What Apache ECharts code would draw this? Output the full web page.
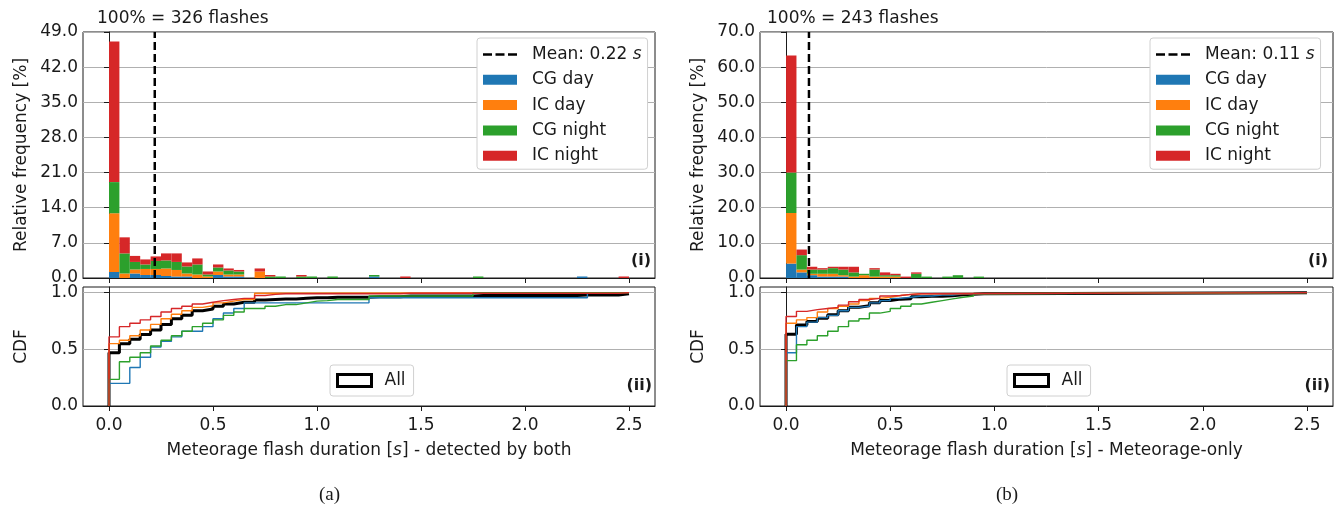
<!DOCTYPE html>
<html>
<head>
<meta charset="utf-8">
<script src="https://cdn.jsdelivr.net/npm/echarts@6/dist/echarts.min.js"></script>
<style>
  html, body { margin: 0; padding: 0; background: #ffffff; }
  #chart { width: 1343px; height: 515px; }
</style>
</head>
<body>
<div id="chart"></div>
<script>
// ---- shared binning -------------------------------------------------------
const BIN = 0.05;          // histogram bin width [s]
const X_END = 2.5;         // end of the binned range [s]
const X_TICKS = [0, 0.5, 1, 1.5, 2, 2.5];
const CDF_TICKS = [0, 0.5, 1];
const CATEGORIES = ['CG day', 'IC day', 'CG night', 'IC night'];
const COLORS = ['#1f77b4', '#ff7f0e', '#2ca02c', '#d62728'];

// ---- (a) detected by both: relative frequency [%] per bin -----------------
const FLASHES_A = 326;
const MEAN_A = 0.22;
const Y_MAX_A = 49;
const Y_STEP_A = 7;
const cgDayA   = [1.2, 0.0, 0.9, 0.6, 0.6, 0.4, 0.3, 0.3, 0.0, 0.0, 0.6, 0.3, 0.3, 0, 0, 0, 0, 0, 0, 0, 0, 0, 0, 0, 0, 0.3, 0, 0, 0, 0, 0, 0, 0, 0, 0, 0, 0, 0, 0, 0, 0, 0, 0, 0, 0, 0.3];
const icDayA   = [11.7, 0.9, 0.8, 1.2, 1.2, 1.5, 1.3, 0.6, 0.7, 0.3, 0.7, 0.4, 0.4, 0, 1.3];
const cgNightA = [6.2, 4.0, 1.5, 0.9, 1.6, 1.6, 1.6, 1.4, 2.0, 0.4, 0.8, 0.8, 0.6, 0, 0, 0.3, 0.3, 0, 0.3, 0.3, 0, 0.3, 0, 0, 0, 0.3, 0, 0, 0, 0, 0, 0, 0, 0, 0, 0.3];
const icNightA = [28.0, 3.2, 1.2, 1.0, 0.9, 1.4, 1.7, 0.8, 1.2, 0.6, 0.6, 0.4, 0.3, 0, 0.6, 0.3, 0, 0, 0.3, 0, 0, 0, 0, 0, 0, 0, 0, 0, 0.3, 0, 0, 0, 0, 0, 0, 0, 0, 0, 0, 0, 0, 0, 0, 0, 0, 0, 0, 0, 0, 0.3];

// (a) cumulative distribution, value held over each bin
const cdfAllA     = [0.47, 0.55, 0.59, 0.63, 0.67, 0.72, 0.77, 0.80, 0.84, 0.855, 0.88, 0.90, 0.915, 0.915, 0.935, 0.94, 0.945, 0.945, 0.95, 0.955, 0.955, 0.96, 0.96, 0.96, 0.96, 0.965, 0.965, 0.965, 0.97, 0.97, 0.97, 0.97, 0.97, 0.97, 0.97, 0.975, 0.975, 0.975, 0.975, 0.975, 0.975, 0.975, 0.975, 0.975, 0.975, 0.98, 0.98, 0.98, 0.98, 0.99];
const cdfCgDayA   = [0.20, 0.20, 0.34, 0.43, 0.52, 0.57, 0.61, 0.66, 0.66, 0.70, 0.77, 0.82, 0.86, 0.91, 0.91, 0.91, 0.91, 0.91, 0.91, 0.91, 0.91, 0.91, 0.91, 0.91, 0.91, 0.955, 0.955, 0.955, 0.955, 0.955, 0.955, 0.955, 0.955, 0.955, 0.955, 0.955, 0.955, 0.955, 0.955, 0.955, 0.955, 0.955, 0.955, 0.955, 0.955, 0.955, 1.0];
const cdfIcDayA   = [0.55, 0.58, 0.62, 0.67, 0.72, 0.77, 0.81, 0.84, 0.87, 0.885, 0.91, 0.925, 0.94, 0.94, 0.995, 1.0];
const cdfCgNightA = [0.235, 0.39, 0.43, 0.47, 0.53, 0.58, 0.62, 0.66, 0.70, 0.73, 0.76, 0.80, 0.83, 0.86, 0.86, 0.88, 0.895, 0.895, 0.91, 0.925, 0.93, 0.94, 0.94, 0.94, 0.94, 0.97, 0.97, 0.97, 0.97, 0.97, 0.97, 0.97, 0.97, 0.97, 0.97, 1.0];
const cdfIcNightA = [0.61, 0.70, 0.73, 0.76, 0.79, 0.83, 0.86, 0.88, 0.90, 0.915, 0.93, 0.94, 0.95, 0.95, 0.975, 0.985, 0.99, 0.99, 0.99, 0.99, 0.99, 0.99, 0.99, 0.99, 0.99, 0.99, 0.99, 0.99, 0.995, 0.995, 0.995, 0.995, 0.995, 0.995, 0.995, 0.995, 0.995, 0.995, 0.995, 0.995, 0.995, 0.995, 0.995, 0.995, 0.995, 0.995, 0.995, 0.995, 0.995, 1.0];

// ---- (b) Meteorage-only: relative frequency [%] per bin -------------------
const FLASHES_B = 243;
const MEAN_B = 0.11;
const Y_MAX_B = 70;
const Y_STEP_B = 10;
const cgDayB   = [4.1, 1.6, 0.8, 0.4, 0.4, 0.4];
const icDayB   = [14.4, 0.8, 0.4, 0.8, 0.8, 0.4, 0.4, 0.8, 0.4, 0.4, 0.4];
const cgNightB = [11.5, 4.1, 1.2, 1.2, 1.6, 1.6, 1.2, 0.4, 2.0, 0.4, 0.4, 0, 1.2, 0.4, 0, 0.4, 0.8, 0, 0.4];
const icNightB = [33.3, 1.6, 0.8, 0.4, 0.4, 0.8, 1.6, 0, 0.4, 0.8, 0.4, 0.4, 0.4];

// (b) cumulative distribution, value held over each bin
const cdfAllB     = [0.632, 0.714, 0.746, 0.774, 0.806, 0.84, 0.872, 0.885, 0.912, 0.93, 0.943, 0.947, 0.965, 0.969, 0.969, 0.973, 0.981, 0.985, 0.99, 1.0];
const cdfCgDayB   = [0.47, 0.70, 0.74, 0.78, 0.80, 0.84, 0.87, 0.88, 0.91, 0.93, 0.95, 0.96, 0.97, 0.97, 0.98, 0.98, 0.99, 0.99, 1.0];
const cdfIcDayB   = [0.73, 0.76, 0.78, 0.83, 0.86, 0.88, 0.90, 0.93, 0.95, 0.96, 0.975, 0.985, 0.99, 1.0];
const cdfCgNightB = [0.40, 0.54, 0.58, 0.62, 0.66, 0.70, 0.75, 0.77, 0.82, 0.835, 0.86, 0.88, 0.90, 0.915, 0.93, 0.945, 0.96, 0.97, 0.99, 1.0];
const cdfIcNightB = [0.79, 0.835, 0.85, 0.86, 0.87, 0.89, 0.92, 0.94, 0.95, 0.97, 0.975, 0.985, 0.99, 1.0];

// ---- styling ----------------------------------------------------------------
const FONT = 'DejaVu Sans';
const INK = '#1a1a1a';
const GRID_GRAY = '#b0b0b0';
// legend glyph for the dashed mean line: three dashes centred in a 34x10 box
const DASH_ICON = 'path://M0,0 M34,10 M0,3.75 h9 v2.5 h-9 z M12.5,3.75 h9 v2.5 h-9 z M25,3.75 h9 v2.5 h-9 z';

// ---- helpers ----------------------------------------------------------------
// Stacked histogram rectangles for one category: [x0, x1, base, top]
function stackRects(layers, idx) {
  const out = [];
  const n = Math.max(...layers.map(l => l.length));
  for (let i = 0; i < n; i++) {
    let base = 0;
    for (let j = 0; j < idx; j++) base += (layers[j][i] || 0);
    const v = layers[idx][i] || 0;
    if (v > 0) out.push([i * BIN, (i + 1) * BIN, base, base + v]);
  }
  return out;
}

function barSeries(name, color, axis, data) {
  return {
    type: 'custom', name: name, xAxisIndex: axis, yAxisIndex: axis,
    itemStyle: { color: color },
    encode: { x: [0, 1], y: [2, 3] },
    renderItem: function (params, api) {
      const a = api.coord([api.value(0), api.value(3)]);
      const b = api.coord([api.value(1), api.value(2)]);
      return {
        type: 'rect',
        shape: { x: a[0], y: a[1], width: b[0] - a[0], height: b[1] - a[1] },
        style: { fill: color }
      };
    },
    data: data
  };
}

// Step outline of a cumulative distribution, held to the end of the range
function cdfPoints(vals) {
  const pts = [[0, 0], [0, vals[0]]];
  for (let i = 1; i < vals.length; i++) {
    pts.push([i * BIN, vals[i - 1]]);
    pts.push([i * BIN, vals[i]]);
  }
  pts.push([X_END, vals[vals.length - 1]]);
  return pts;
}

function cdfSeries(name, color, width, axis, vals, z) {
  return {
    type: 'line', name: name, xAxisIndex: axis, yAxisIndex: axis,
    data: cdfPoints(vals), showSymbol: false, symbol: 'none',
    lineStyle: { color: color, width: width }, itemStyle: { color: color },
    z: z, animation: false, silent: true
  };
}

function meanSeries(name, axis, mean, yMax) {
  return {
    type: 'line', name: name, xAxisIndex: axis, yAxisIndex: axis,
    data: [[mean, 0], [mean, yMax]], showSymbol: false, symbol: 'none',
    lineStyle: { color: '#000', width: 2.5, type: [8, 4] }, itemStyle: { color: '#000' },
    z: 5, animation: false, silent: true
  };
}

function xAxisDef(grid, withLabels, nameText) {
  const ax = {
    type: 'value', gridIndex: grid, min: -0.125, max: 2.625,
    axisLine: { show: true, lineStyle: { color: INK, width: 1 } },
    axisTick: { show: true, inside: false, length: 5, customValues: X_TICKS, lineStyle: { color: INK } },
    axisLabel: { show: withLabels, customValues: X_TICKS, margin: 11, color: INK, fontFamily: FONT, fontSize: 17,
      formatter: v => v.toFixed(1) },
    splitLine: { show: false }
  };
  if (nameText) {
    ax.name = nameText;
    ax.nameLocation = 'middle';
    ax.nameGap = 36;
    ax.nameTextStyle = { color: INK, fontFamily: FONT, fontSize: 17,
      rich: { i: { fontStyle: 'italic', fontFamily: FONT, fontSize: 17, color: INK } } };
  }
  return ax;
}

function yHistDef(grid, yMax, step) {
  return {
    type: 'value', gridIndex: grid, min: 0, max: yMax, interval: step,
    name: 'Relative frequency [%]', nameLocation: 'middle', nameGap: 53,
    nameTextStyle: { color: INK, fontFamily: FONT, fontSize: 17 },
    axisLine: { show: true, lineStyle: { color: INK, width: 1 } },
    axisTick: { show: true, inside: false, length: 5, lineStyle: { color: INK } },
    axisLabel: { margin: 5, color: INK, fontFamily: FONT, fontSize: 17, formatter: v => v.toFixed(1) },
    splitLine: { show: true, lineStyle: { color: GRID_GRAY, width: 1 } }
  };
}

function yCdfDef(grid) {
  return {
    type: 'value', gridIndex: grid, min: 0, max: 1.05,
    name: 'CDF', nameLocation: 'middle', nameGap: 53,
    nameTextStyle: { color: INK, fontFamily: FONT, fontSize: 17 },
    axisLine: { show: true, lineStyle: { color: INK, width: 1 } },
    axisTick: { show: true, inside: false, length: 5, customValues: CDF_TICKS, lineStyle: { color: INK } },
    axisLabel: { margin: 5, customValues: CDF_TICKS, color: INK, fontFamily: FONT, fontSize: 17, formatter: v => v.toFixed(1) },
    splitLine: { show: true, lineStyle: { color: GRID_GRAY, width: 1 } }
  };
}

function topLegend(left, meanName) {
  return {
    orient: 'vertical', left: left, top: 38,
    backgroundColor: '#ffffff', borderColor: '#d0d0d0', borderWidth: 1, borderRadius: 3,
    padding: [8, 6, 5, 6], itemGap: 8.3, itemWidth: 34, itemHeight: 10,
    selectedMode: false,
    textStyle: { color: INK, fontFamily: FONT, fontSize: 17,
      rich: {
        t: { color: INK, fontFamily: FONT, fontSize: 17, padding: [0, 0, 0, 10] },
        i: { color: INK, fontFamily: FONT, fontSize: 17, fontStyle: 'italic' }
      } },
    formatter: function (name) {
      if (name.indexOf('Mean') === 0) {
        return '{t|' + name.slice(0, -1) + '}{i|s}';
      }
      return '{t|' + name + '}';
    },
    data: [{ name: meanName, icon: DASH_ICON, itemStyle: { color: '#000000' } }]
      .concat(CATEGORIES.map(c => ({ name: c, icon: 'rect' })))
  };
}

function allLegend(left) {
  return {
    orient: 'vertical', left: left, top: 365,
    backgroundColor: '#ffffff', borderColor: '#d0d0d0', borderWidth: 1, borderRadius: 3,
    padding: [7, 8, 7, 6], itemWidth: 34, itemHeight: 12, selectedMode: false,
    textStyle: { color: INK, fontFamily: FONT, fontSize: 17, padding: [0, 0, 0, 8] },
    data: [{ name: 'All', icon: 'rect', itemStyle: { color: '#ffffff', borderColor: '#000000', borderWidth: 3 } }]
  };
}

// ---- assemble ---------------------------------------------------------------
const layersA = [cgDayA, icDayA, cgNightA, icNightA];
const layersB = [cgDayB, icDayB, cgNightB, icNightB];
const cdfA = [cdfCgDayA, cdfIcDayA, cdfCgNightA, cdfIcNightA];
const cdfB = [cdfCgDayB, cdfIcDayB, cdfCgNightB, cdfIcNightB];
const meanNameA = 'Mean: ' + MEAN_A.toFixed(2) + ' s';
const meanNameB = 'Mean: ' + MEAN_B.toFixed(2) + ' s';

const series = [];
CATEGORIES.forEach((c, k) => series.push(barSeries(c, COLORS[k], 0, stackRects(layersA, k))));
series.push(meanSeries(meanNameA, 0, MEAN_A, Y_MAX_A));
series.push(cdfSeries('All', '#000000', 3, 1, cdfAllA, 2));
CATEGORIES.forEach((c, k) => series.push(cdfSeries(c, COLORS[k], 1.4, 1, cdfA[k], 3)));

CATEGORIES.forEach((c, k) => series.push(barSeries(c, COLORS[k], 2, stackRects(layersB, k))));
series.push(meanSeries(meanNameB, 2, MEAN_B, Y_MAX_B));
series.push(cdfSeries('All', '#000000', 3, 3, cdfAllB, 2));
CATEGORIES.forEach((c, k) => series.push(cdfSeries(c, COLORS[k], 1.4, 3, cdfB[k], 3)));

const gridStyle = { show: true, borderColor: INK, borderWidth: 1, backgroundColor: 'transparent' };

const option = {
  backgroundColor: '#ffffff',
  animation: false,
  grid: [
    Object.assign({ left: 83, top: 32, width: 572, height: 246 }, gridStyle),
    Object.assign({ left: 83, top: 287, width: 572, height: 119 }, gridStyle),
    Object.assign({ left: 760, top: 32, width: 573, height: 246 }, gridStyle),
    Object.assign({ left: 760, top: 287, width: 573, height: 119 }, gridStyle)
  ],
  xAxis: [
    xAxisDef(0, false),
    xAxisDef(1, true, 'Meteorage flash duration [{i|s}] - detected by both'),
    xAxisDef(2, false),
    xAxisDef(3, true, 'Meteorage flash duration [{i|s}] - Meteorage-only')
  ],
  yAxis: [
    yHistDef(0, Y_MAX_A, Y_STEP_A),
    yCdfDef(1),
    yHistDef(2, Y_MAX_B, Y_STEP_B),
    yCdfDef(3)
  ],
  legend: [topLegend(477, meanNameA), allLegend(330), topLegend(1150, meanNameB), allLegend(1007)],
  series: series,
  graphic: [
    { type: 'text', left: 97, top: 10, style: { text: '100% = ' + FLASHES_A + ' flashes', font: '17px "DejaVu Sans"', fill: INK } },
    { type: 'text', left: 767, top: 10, style: { text: '100% = ' + FLASHES_B + ' flashes', font: '17px "DejaVu Sans"', fill: INK } },
    { type: 'text', right: 1343 - 651, top: 253, style: { text: '(i)', font: 'bold 16px "DejaVu Sans"', fill: INK } },
    { type: 'text', right: 1343 - 652, top: 378, style: { text: '(ii)', font: 'bold 16px "DejaVu Sans"', fill: INK } },
    { type: 'text', right: 1343 - 1328, top: 253, style: { text: '(i)', font: 'bold 16px "DejaVu Sans"', fill: INK } },
    { type: 'text', right: 1343 - 1330, top: 378, style: { text: '(ii)', font: 'bold 16px "DejaVu Sans"', fill: INK } },
    { type: 'text', left: 319, top: 486, style: { text: '(a)', font: '19px "Liberation Serif"', fill: INK } },
    { type: 'text', left: 996, top: 486, style: { text: '(b)', font: '19px "Liberation Serif"', fill: INK } }
  ]
};

const chart = echarts.init(document.getElementById('chart'), null, { renderer: 'canvas' });
chart.setOption(option);
</script>
</body>
</html>
